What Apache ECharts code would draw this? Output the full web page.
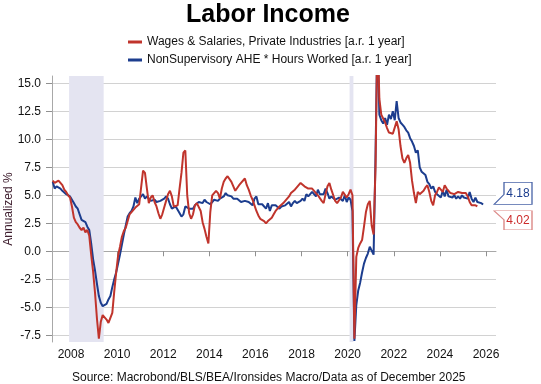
<!DOCTYPE html>
<html><head><meta charset="utf-8">
<script src="https://cdn.jsdelivr.net/npm/echarts@6/dist/echarts.min.js"></script>
<style>html,body{margin:0;padding:0;background:#fff}#chart{width:541px;height:384px}</style>
</head><body><div id="chart"></div>
<script>
// ---- data (monthly, first observation March 2007) ----
const startMonth = '2007-03';
const seriesNames = [
  'Wages & Salaries, Private Industries [a.r. 1 year]',
  'NonSupervisory AHE * Hours Worked [a.r. 1 year]'
];
const wagesSalaries = [
  6.3, 6.1, 6.2, 6.3, 6.1, 5.9, 5.5, 5.3, 5.0, 4.8,
  4.0, 3.0, 2.6, 2.4, 2.1, 1.9, 2.1, 1.7, 1.9, 1.4, -0.3, -1.8,
  -3.7, -6.0, -7.8, -6.3, -5.7, -5.8, -6.1, -6.4, -6.3, -5.5, -3.6, -1.9,
  -0.4, 0.4, 1.3, 1.8, 2.1, 2.7, 3.3, 3.5, 3.6, 3.9, 3.9, 4.2,
  5.7, 7.2, 7.0, 5.6, 4.3, 4.8, 5.0, 4.4, 4.0, 3.4, 2.9, 3.3,
  3.9, 4.5, 5.1, 5.4, 4.9, 4.0, 3.9, 4.1, 5.6, 7.0, 8.8, 9.0,
  5.0, 3.4, 2.9, 3.3, 4.1, 4.3, 4.2, 3.6, 2.6, 2.0, 1.3, 0.7,
  3.5, 5.0, 5.0, 5.4, 5.2, 4.7, 5.6, 6.2, 6.5, 6.7, 6.7, 6.2,
  5.8, 5.4, 5.4, 5.9, 6.1, 6.2, 6.5, 5.9, 5.5, 5.0, 4.6, 4.1,
  3.6, 3.2, 2.9, 2.9, 2.7, 2.5, 2.7, 2.7, 3.0, 3.3, 3.6, 3.8,
  4.0, 4.1, 4.3, 4.5, 4.7, 4.9, 5.2, 5.3, 5.5, 5.6, 5.9, 6.1,
  6.0, 5.8, 5.8, 5.6, 5.6, 5.6, 5.5, 5.2, 5.0, 5.1, 4.5, 4.3,
  5.1, 5.8, 6.1, 5.5, 5.0, 4.5, 4.3, 4.4, 4.8, 5.3, 5.4, 4.8,
  5.1, 5.5, 5.0, -7.8, -0.5, 0.3, 0.7, 1.0, 2.2, 3.5, 4.2, 4.5,
  2.3, 1.5, 7.5, 20.0, 13.6, 12.2, 12.3, 11.5, 11.0, 10.6, 10.6, 10.5,
  10.6, 11.6, 10.9, 9.4, 8.3, 7.9, 8.3, 8.6, 7.9, 6.3, 5.2, 4.3,
  5.3, 5.1, 5.2, 5.4, 5.7, 5.9, 5.3, 4.5, 4.1, 5.0, 5.3, 5.7,
  5.5, 5.3, 5.9, 5.6, 5.7, 5.2, 5.1, 5.1, 5.2, 5.3, 5.3, 5.2,
  5.3, 5.2, 4.9, 4.4, 4.1, 4.0, 4.1, 4.02
];
const nonSupervisory = [
  6.2, 5.6, 5.8, 5.7, 5.6, 5.4, 5.3, 5.1, 5.0, 4.9,
  4.8, 4.3, 4.0, 3.8, 3.3, 2.8, 2.7, 2.6, 2.2, 1.9, 0.7, -0.7,
  -1.7, -2.9, -4.0, -4.6, -4.9, -4.8, -4.7, -4.3, -4.0, -3.2, -2.5, -1.9,
  -1.1, -0.3, 0.6, 1.5, 2.3, 3.1, 3.4, 3.6, 4.0, 4.8, 4.3, 4.7,
  4.6, 5.1, 4.7, 4.9, 4.8, 4.5, 4.6, 4.6, 4.4, 4.4, 4.5, 4.6,
  4.7, 4.9, 4.7, 4.2, 3.8, 3.7, 4.0, 3.7, 3.8, 3.1, 3.3, 4.0,
  4.0, 3.8, 3.8, 3.8, 4.1, 4.0, 4.4, 4.5, 4.3, 4.6, 4.4, 4.4,
  4.2, 4.2, 4.6, 4.7, 4.5, 4.7, 4.7, 4.9, 5.2, 5.0, 5.0, 4.9,
  4.7, 4.6, 4.7, 4.6, 4.4, 4.4, 4.5, 4.6, 4.4, 4.4, 4.1, 4.7,
  4.9, 4.2, 4.1, 4.2, 4.3, 3.8, 4.3, 3.6, 4.1, 4.2, 4.1, 4.0,
  3.8, 4.0, 3.9, 4.1, 4.2, 4.4, 4.0, 4.3, 4.5, 4.3, 4.2, 4.5,
  4.7, 4.5, 5.1, 4.9, 5.1, 5.3, 5.1, 4.9, 5.5, 5.1, 5.0, 5.1,
  5.6, 5.2, 4.7, 4.9, 5.0, 4.6, 4.5, 4.8, 4.7, 4.5, 5.0, 4.4,
  4.8, 4.6, 3.6, -8.0, -4.8, -3.5, -2.8, -1.9, -1.1, -0.6, -0.2, 0.4,
  0.5, -0.3, 8.5, 20.0, 12.2, 11.7, 11.4, 11.9, 11.3, 12.2, 11.8, 12.5,
  11.7, 13.4, 11.9, 11.5, 11.3, 11.1, 10.8, 10.6, 10.1, 9.8, 9.4, 8.8,
  9.0, 7.5, 7.1, 7.0, 6.8, 6.2, 6.0, 5.6, 5.8, 5.3, 5.1, 5.2,
  4.8, 5.4, 4.9, 5.5, 4.9, 5.0, 4.8, 5.0, 4.7, 4.9, 4.7, 5.0,
  4.8, 4.7, 4.7, 5.3, 4.7, 4.4, 4.8, 4.4, 4.5, 4.3, 4.18
];
const xTickYears = [2008, 2010, 2012, 2014, 2016, 2018, 2020, 2022, 2024, 2026];
const yTickValues = [-7.5, -5.0, -2.5, 0.0, 2.5, 5.0, 7.5, 10.0, 12.5, 15.0];
const recessions = [['2007-12', '2009-06'], ['2020-02', '2020-04']];

// ---- helpers ----
const FONT = 'Liberation Sans, Arial, Helvetica, sans-serif';
const RED = '#c0342c', BLUE = '#1c3d8e';
const [sy, sm] = startMonth.split('-').map(Number);
const monthMid = i => sy + (sm - 1 + i + 0.5) / 12;          // mid-month decimal year
const monthStart = s => { const [y, m] = s.split('-').map(Number); return y + (m - 1) / 12; };
const toPairs = arr => arr.map((v, i) => [monthMid(i), v]);
const X_MIN = 2007.176, X_MAX = 2026.434;
const Y_MIN = -8.1, Y_MAX = 15.65;

const lastRed = wagesSalaries[wagesSalaries.length - 1];
const lastBlue = nonSupervisory[nonSupervisory.length - 1];

const chart = echarts.init(document.getElementById('chart'), null, {renderer: 'canvas'});
chart.setOption({
  animation: false,
  backgroundColor: '#fff',
  textStyle: {fontFamily: FONT},
  title: [
    {text: 'Labor Income', left: 186, top: 3, padding: 0,
     textStyle: {fontSize: 25, fontWeight: 'bold', color: '#000', fontFamily: FONT}},
    {text: 'Source: Macrobond/BLS/BEA/Ironsides Macro/Data as of December 2025', left: 72, top: 372, padding: 0,
     textStyle: {fontSize: 12, fontWeight: 'normal', color: '#111', fontFamily: FONT}}
  ],
  legend: {
    orient: 'vertical', left: 128, top: 36, padding: 0,
    itemWidth: 14, itemHeight: 3, itemGap: 6, icon: 'rect',
    data: seriesNames,
    textStyle: {fontSize: 12, color: '#111', fontFamily: FONT}
  },
  grid: {left: 52, right: 45, top: 76, bottom: 42, containLabel: false, outerBoundsMode: 'none'},
  xAxis: {
    type: 'value', min: X_MIN, max: X_MAX,
    axisLine: {show: true, lineStyle: {color: '#a8a8a8', width: 1}},
    axisTick: {show: true, length: 5, customValues: xTickYears, lineStyle: {color: '#909090'}},
    axisLabel: {customValues: xTickYears, formatter: v => String(Math.round(v)), fontSize: 12, color: '#111', margin: 7, fontFamily: FONT},
    splitLine: {show: false}
  },
  yAxis: {
    type: 'value', min: Y_MIN, max: Y_MAX,
    name: 'Annualized %', nameLocation: 'middle', nameGap: 37, nameRotate: 90, nameMoveOverlap: false,
    nameTextStyle: {fontSize: 12, color: '#402030', fontFamily: FONT},
    axisLine: {show: true, lineStyle: {color: '#a8a8a8', width: 1}},
    axisTick: {show: true, length: 6, customValues: yTickValues, lineStyle: {color: '#909090'}},
    axisLabel: {customValues: yTickValues, formatter: v => v.toFixed(1), fontSize: 12, color: '#111', margin: 11, fontFamily: FONT},
    splitLine: {show: true, lineStyle: {color: '#d2d2d2', width: 1}}
  },
  series: [
    {
      name: seriesNames[1], type: 'line', data: toPairs(nonSupervisory),
      showSymbol: false, symbol: 'none', z: 2,
      lineStyle: {color: BLUE, width: 2}, itemStyle: {color: BLUE},
      markArea: {
        silent: true, itemStyle: {color: '#e4e4f1'},
        data: recessions.map(r => [{xAxis: monthStart(r[0])}, {xAxis: monthStart(r[1])}])
      },
      markPoint: {
        silent: true,
        data: [{coord: [X_MAX, lastBlue], value: lastBlue}],
        symbol: 'path://M0 22 L10 12 L10 0 L38 0 L38 22 Z',
        symbolSize: [38, 22], symbolOffset: [17, -11],
        itemStyle: {color: '#fff', borderColor: '#4a64a8', borderWidth: 1},
        label: {show: true, position: 'inside', offset: [5, 0], formatter: String(lastBlue), color: BLUE, fontSize: 12, fontFamily: FONT}
      }
    },
    {
      name: seriesNames[0], type: 'line', data: toPairs(wagesSalaries),
      showSymbol: false, symbol: 'none', z: 3,
      lineStyle: {color: RED, width: 2}, itemStyle: {color: RED},
      markPoint: {
        silent: true,
        data: [{coord: [X_MAX, lastRed], value: lastRed}],
        symbol: 'path://M0 0 L38 0 L38 19 L10 19 L10 9 Z',
        symbolSize: [38, 19], symbolOffset: [17, 14],
        itemStyle: {color: '#fff', borderColor: '#dc8a88', borderWidth: 1},
        label: {show: true, position: 'inside', offset: [5, 0], formatter: lastRed.toFixed(2), color: '#cc2a2a', fontSize: 12, fontFamily: FONT}
      }
    }
  ]
});
</script>
</body></html>
